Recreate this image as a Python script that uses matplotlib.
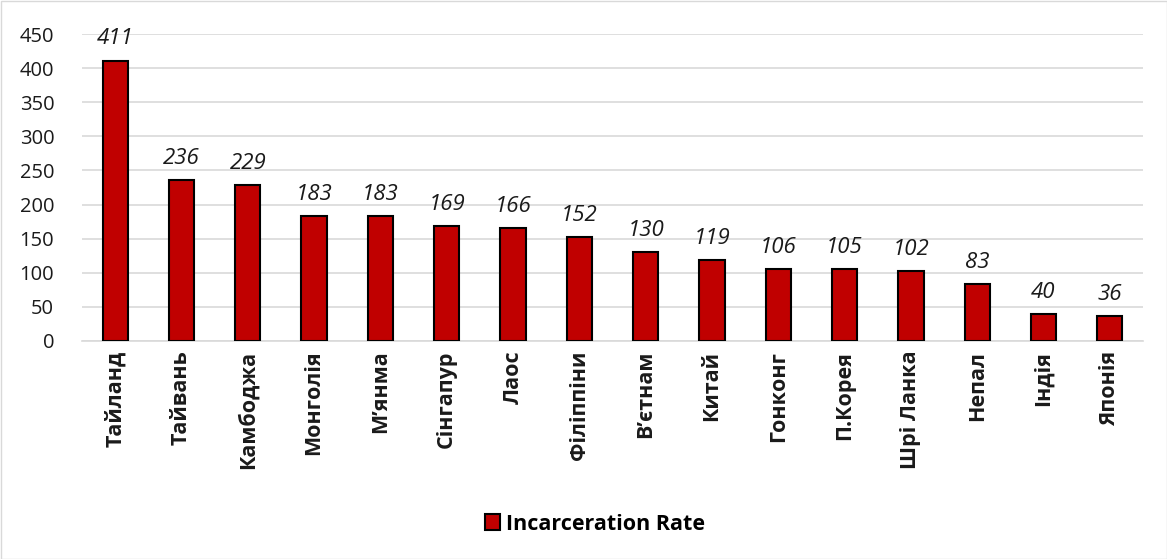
import matplotlib
matplotlib.use("Agg")
import matplotlib.pyplot as plt
from matplotlib.patches import Rectangle

categories = ["Тайланд", "Тайвань", "Камбоджа", "Монголія", "М’янма", "Сінгапур", "Лаос",
              "Філіппіни", "В’єтнам", "Китай", "Гонконг", "П.Корея", "Шрі Ланка", "Непал",
              "Індія", "Японія"]
values = [411, 236, 229, 183, 183, 169, 166, 152, 130, 119, 106, 105, 102, 83, 40, 36]
series_name = "Incarceration Rate"
yticks = [0, 50, 100, 150, 200, 250, 300, 350, 400, 450]

plt.rcParams['font.family'] = ['Open Sans', 'DejaVu Sans']

fig = plt.figure(figsize=(11.67, 5.59), dpi=100)
ax = fig.add_axes([82/1167, 1 - 341/559, 1061/1167, 307/559])

x = list(range(len(categories)))
bars = ax.bar(x, values, width=0.38, color="#C00000", edgecolor="black", linewidth=1.5,
              label=series_name, zorder=3)
for xi, v in zip(x, values):
    ax.annotate(str(v), (xi, v), xytext=(0, 8), textcoords="offset points",
                ha="center", va="bottom", fontsize=16, style="italic", color="#1a1a1a")

ax.set_xlim(-0.5, len(categories) - 0.5)
ax.set_ylim(0, 450)
ax.set_yticks(yticks)
ax.set_yticklabels([str(t) for t in yticks], fontsize=14.5, color="#1a1a1a")
ax.set_xticks(x)
ax.set_xticklabels(categories, rotation=90, fontsize=15.5, fontweight="bold", color="#1a1a1a")
ax.tick_params(axis="both", length=0, pad=7)
ax.tick_params(axis="y", pad=20)
ax.grid(axis="y", color="#d9d9d9", linewidth=1.2, zorder=0)
for s in ["top", "right", "left"]:
    ax.spines[s].set_visible(False)
ax.spines["bottom"].set_color("#d9d9d9")
ax.spines["bottom"].set_linewidth(1.2)

leg = fig.legend(loc="center", bbox_to_anchor=(0.51, 1 - 524/559), frameon=False,
                 prop={"size": 15.5, "weight": "bold"}, handlelength=0.7, handleheight=0.7,
                 handletextpad=0.3)

fig.patches.append(Rectangle((0.5/1167, 0.5/559), 1 - 1/1167, 1 - 1/559, transform=fig.transFigure,
                             fill=False, edgecolor="#d9d9d9", linewidth=1))

fig.savefig("out.png", dpi=100, facecolor="white")
